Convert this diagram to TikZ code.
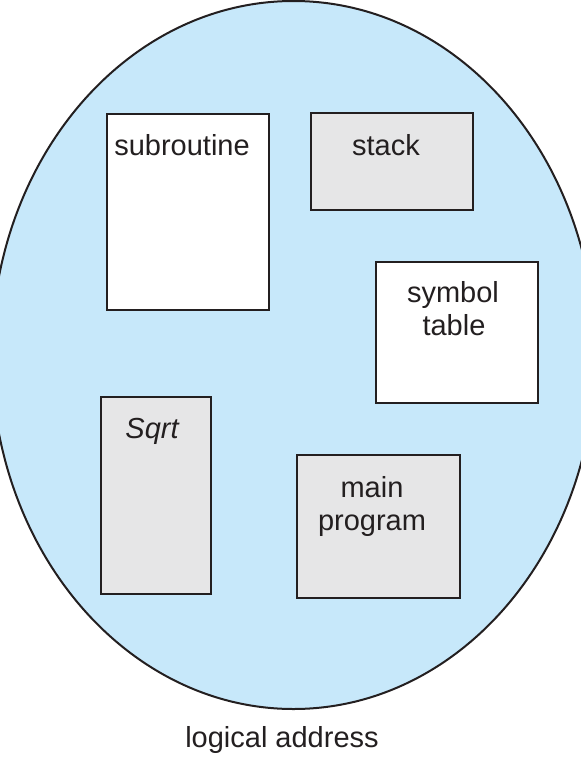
\documentclass[tikz,border=0pt]{standalone}
\usepackage{fontspec}
\setmainfont{Liberation Sans}
\definecolor{memblue}{RGB}{199,232,250}
\definecolor{boxgray}{RGB}{230,230,231}
\definecolor{inkdark}{RGB}{35,31,32}
\begin{document}
\begin{tikzpicture}[x=1pt,y=-1pt,
  segbox/.style={draw=inkdark,line width=2pt,inner sep=0pt,outer sep=0pt},
  whitebox/.style={segbox,fill=white},
  graybox/.style={segbox,fill=boxgray},
  lbl/.style={anchor=base,inner sep=0pt,text=inkdark,font=\fontsize{29}{33}\selectfont}]
\useasboundingbox (0,0) rectangle (581,758);
\begin{scope}
  \clip (0,0) rectangle (581,758);
  \filldraw[fill=memblue,draw=inkdark,line width=2pt] (293.5,355) ellipse [x radius=302pt, y radius=354pt];
\end{scope}
% segments
\node[whitebox,minimum width=162pt,minimum height=196pt] (sub) at (188,211.5) {};
\node[graybox,minimum width=162pt,minimum height=97pt] (stk) at (392,161.5) {};
\node[whitebox,minimum width=162pt,minimum height=141pt] (sym) at (457,332.5) {};
\node[graybox,minimum width=110pt,minimum height=197pt] (sqr) at (156,495.5) {};
\node[graybox,minimum width=163pt,minimum height=143pt] (mainp) at (378.5,526.5) {};
% labels
\node[lbl] (tsub) at (182,155) {subroutine};
\node[lbl] (tstk) at (386,155) {stack};
\node[lbl] (tsym1) at (453,302) {symbol};
\node[lbl] (tsym2) at (454,335) {table};
\node[lbl] (tsqr) at (152,438) {\itshape Sqrt};
\node[lbl] (tmain1) at (372,497) {main};
\node[lbl] (tmain2) at (372,530) {program};
\node[lbl] (tlog) at (282,747) {logical address};
\end{tikzpicture}
\end{document}
